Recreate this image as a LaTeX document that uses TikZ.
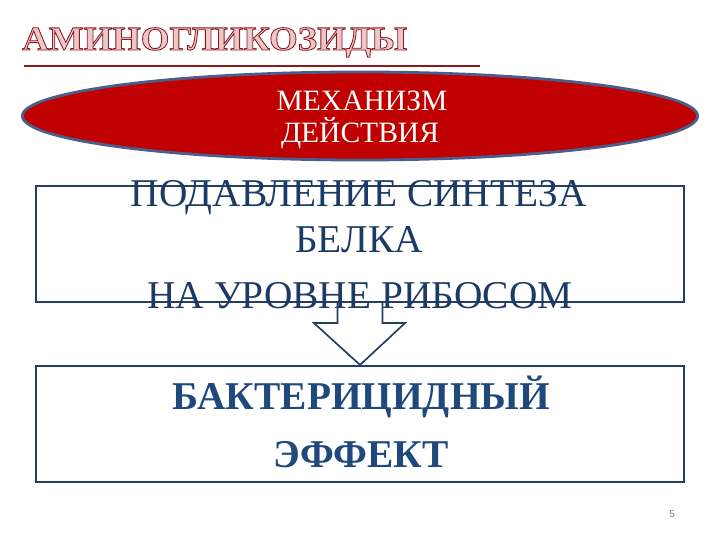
\documentclass[tikz,border=0pt]{standalone}
\usepackage{fontspec}
\setmainfont{Liberation Serif}
\newfontfamily\numfont{Liberation Sans}
\newfontfamily\titlefont[FakeStretch=1.09]{Liberation Serif Bold}
\usetikzlibrary{shapes.geometric}
\usetikzlibrary{calc}

\definecolor{slidered}{HTML}{C00000}
\definecolor{rimblue}{HTML}{4A5D8C}
\definecolor{boxnavy}{HTML}{243F60}
\definecolor{textnavy}{HTML}{1B3A66}
\definecolor{boldnavy}{HTML}{1F497D}
\definecolor{rulered}{HTML}{8E1B1B}

% outlined (engraved) title letters
\newcommand{\engrave}[1]{\special{pdf:literal direct 2 Tr 0.6 w 0.55 0.1 0.12 RG 0.92 0.78 0.79 rg}#1\special{pdf:literal direct 0 Tr}}

\begin{document}
\begin{tikzpicture}[x=0.025cm,y=0.025cm]
\useasboundingbox (0,0) rectangle (720,540);
\draw[rulered,line width=1.5pt] (24,474) -- (480,474);

\node[ellipse,draw=rimblue,line width=2pt,fill=slidered,minimum width=16.875cm,minimum height=2.2cm] (mech) at (360,424) {};
\node[font=\fontsize{21}{25}\selectfont,text=white,anchor=base] (mechA) at (362,429) {МЕХАНИЗМ};
\node[font=\fontsize{21}{25}\selectfont,text=white,anchor=base] (mechB) at (360,397) {ДЕЙСТВИЯ};

\node[draw=boxnavy,line width=1.5pt,minimum width=16.2cm,minimum height=2.9cm] (top) at (360,296) {};
\node[draw=boxnavy,line width=1.5pt,minimum width=16.2cm,minimum height=2.9cm] (bottom) at (360,116) {};

\draw[boxnavy,line width=1.2pt,line join=miter] ($(top.south)+(-22.5,0)$) -- ++(0,-20) -- ++(-23.5,0) -- (bottom.north) -- ($(top.south)+(45,-20)$) -- ++(-22.5,0) -- ++(0,20);

\node[font=\fontsize{28}{32}\selectfont,text=textnavy,anchor=base] (lineA) at (359,333) {ПОДАВЛЕНИЕ СИНТЕЗА};
\node[font=\fontsize{28}{32}\selectfont,text=textnavy,anchor=base] (lineB) at (359,288) {БЕЛКА};
\node[font=\fontsize{28}{32}\selectfont,text=textnavy,anchor=base] (lineC) at (360,232) {НА УРОВНЕ РИБОСОМ};

\node[font=\bfseries\fontsize{28}{32}\selectfont,text=boldnavy,anchor=base] (effA) at (361,131) {БАКТЕРИЦИДНЫЙ};
\node[font=\bfseries\fontsize{28}{32}\selectfont,text=boldnavy,anchor=base] (effB) at (361,73) {ЭФФЕКТ};

\node[font=\numfont\fontsize{7}{8}\selectfont,text=gray] (pnum) at (672,26) {5};

\node[font=\titlefont\fontsize{24}{28}\selectfont,anchor=base west,inner sep=0pt] (title) at (22,490) {\engrave{АМИНОГЛИКОЗИДЫ}};
\end{tikzpicture}
\end{document}
